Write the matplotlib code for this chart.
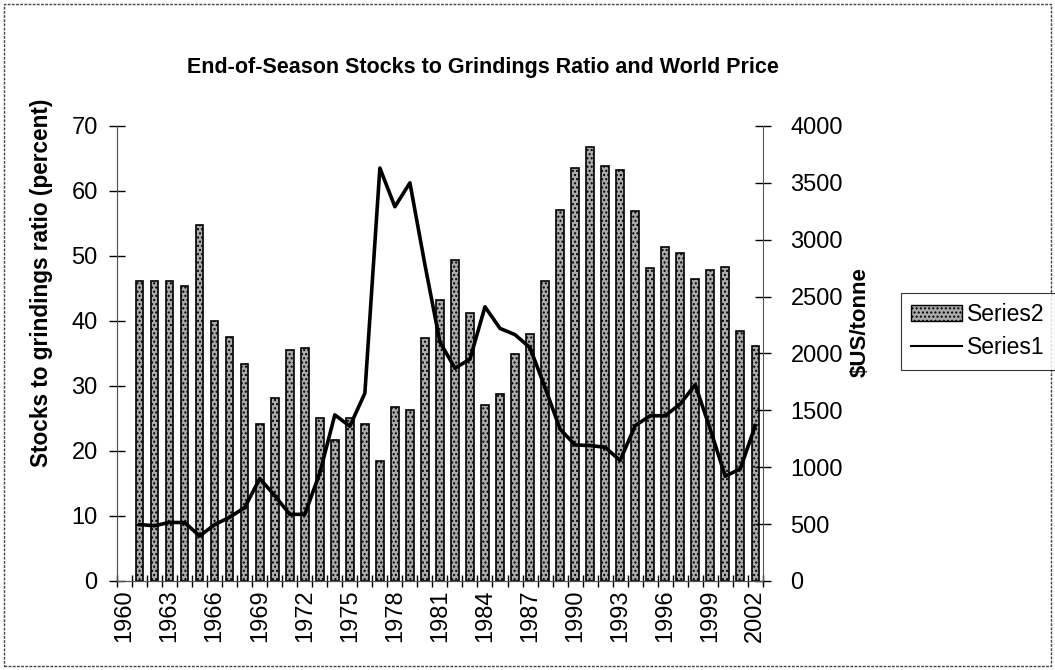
import numpy as np
import matplotlib.pyplot as plt
from matplotlib.patches import Patch, Rectangle
from matplotlib.lines import Line2D

plt.rcParams['font.family'] = ['Liberation Sans', 'DejaVu Sans']
plt.rcParams['hatch.color'] = '#808080'

# data (1960 has no value)
years = list(range(1960, 2003))
stocks_ratio = [np.nan,
                46.1, 46.1, 46.1, 45.4, 54.7,
                40.0, 37.5, 33.3, 24.2, 28.1,
                35.6, 35.8, 25.0, 21.7, 25.0,
                24.2, 18.4, 26.8, 26.3,
                37.3, 43.2, 49.4, 41.2, 27.1,
                28.8, 34.9, 38.0, 46.1, 57.0,
                63.6, 66.7, 63.9, 63.3, 56.9,
                48.1, 51.3, 50.4, 46.5, 47.9,
                48.3, 38.4, 36.2]
world_price = [np.nan,
               495, 485, 515, 512, 395,
               495, 560, 645, 900, 750,
               585, 585, 950, 1460, 1360,
               1650, 3630, 3290, 3500,
               2780, 2100, 1870, 1950, 2410,
               2220, 2165, 2050, 1700, 1335,
               1195, 1190, 1175, 1058, 1365,
               1452, 1452, 1555, 1725, 1335,
               920, 985, 1365]
year_labels = [str(y) for y in years[::3]]

x = np.arange(len(years))

fig = plt.figure(figsize=(10.55, 6.70), dpi=100)
ax = fig.add_axes([0.111, 0.133, 0.612, 0.679])
ax2 = ax.twinx()

# bars (left axis)
ax.bar(x, stocks_ratio, width=0.5, color='#ababab', edgecolor='black',
       linewidth=1.2, hatch='....', zorder=2)

# line (right axis)
ax2.plot(x, world_price, color='black', linewidth=2.6, zorder=3)

ax.set_xlim(-0.5, len(years) - 0.5)
ax.set_ylim(0, 70)
ax2.set_ylim(0, 4000)

ax.set_yticks(np.arange(0, 71, 10))
ax2.set_yticks(np.arange(0, 4001, 500))
ax.set_xticks(x[::3])
ax.set_xticklabels(year_labels, rotation=90)
ax.set_xticks(np.arange(-0.5, len(years), 1), minor=True)

for a in (ax, ax2):
    a.spines['top'].set_visible(False)
    a.spines['left'].set_color('#555555')
    a.spines['right'].set_color('#555555')
    a.spines['bottom'].set_color('#555555')
ax.spines['right'].set_visible(False)

ax.tick_params(axis='y', direction='inout', length=12, width=1, labelsize=17, pad=8)
ax2.tick_params(axis='y', direction='inout', length=12, width=1, labelsize=17, pad=14)
ax.tick_params(axis='x', which='major', length=0, labelsize=17, pad=6)
ax.tick_params(axis='x', which='minor', direction='inout', length=8, width=1)

ax.set_ylabel('Stocks to grindings ratio (percent)', fontsize=16.3,
              fontweight='bold')
ax.yaxis.set_label_coords(-0.1, 0.655)
ax2.set_ylabel('$US/tonne', fontsize=16, fontweight='bold')
ax2.yaxis.set_label_coords(1.135, 0.57)

fig.text(0.458, 0.899, 'End-of-Season Stocks to Grindings Ratio and World Price',
         ha='center', va='center', fontsize=15.5, fontweight='bold')

handles = [Patch(facecolor='#ababab', edgecolor='black', hatch='....'),
           Line2D([0], [0], color='black', linewidth=1.5)]
leg = fig.legend(handles, ['Series2', 'Series1'], loc='upper left',
                 bbox_to_anchor=(0.854, 0.563), borderaxespad=0, fontsize=16.5,
                 frameon=True, fancybox=False, edgecolor='black', handlelength=2.2,
                 handletextpad=0.25, borderpad=0.45, labelspacing=0.45)
leg.get_frame().set_linewidth(0.8)

# outer chart border
fig.patches.append(Rectangle((0.004, 0.006), 0.992, 0.988, transform=fig.transFigure,
                             fill=False, edgecolor='#444444', linewidth=1,
                             linestyle=(0, (2, 1))))

fig.savefig('out.png', dpi=100)
